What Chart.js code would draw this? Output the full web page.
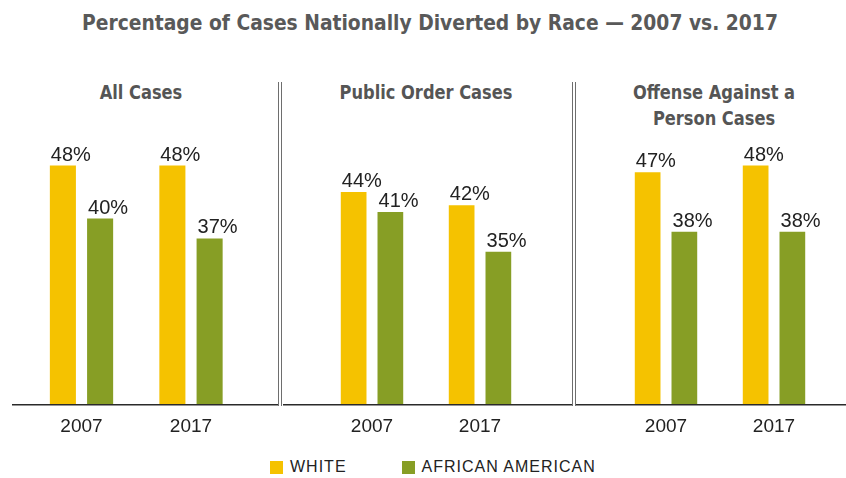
<!DOCTYPE html>
<html>
<head>
<meta charset="utf-8">
<script src="https://cdn.jsdelivr.net/npm/chart.js@4.4.1/dist/chart.umd.min.js"></script>
<style>
  body { margin: 0; background: #fff; }
  #wrap { position: relative; width: 846px; height: 478px; overflow: hidden; background: #fff; }
  .title { position: absolute; left: 7px; width: 846px; top: 10px; text-align: center;
           font: bold 22px "DejaVu Sans Condensed", "DejaVu Sans"; color: #595959;
           transform: scaleX(0.945); }
  .ptitle { position: absolute; text-align: center; width: 260px;
            font: bold 19px "DejaVu Sans Condensed", "DejaVu Sans"; line-height: 26px; color: #555;
            transform: scaleX(0.95); }
  .panel { position: absolute; top: 60px; height: 390px; }
  .sep { position: absolute; top: 82px; height: 324px; width: 2px;
         border-left: 1.3px solid #6e6e6e; border-right: 1.3px solid #6e6e6e; }
  #legend { position: absolute; top: 458px; left: 270px; display: flex; align-items: center;
            font: 16px "Liberation Sans", Arial; letter-spacing: 1px; color: #222; }
  #legend .sw { width: 13px; height: 13px; margin-right: 7px; }
</style>
</head>
<body>
<div id="wrap">
  <div class="title">Percentage of Cases Nationally Diverted by Race — 2007 vs. 2017</div>

  <div class="ptitle" style="left:11px; top:79px">All Cases</div>
  <div class="ptitle" style="left:296px; top:79px">Public Order Cases</div>
  <div class="ptitle" style="left:584px; top:79px">Offense Against a<br>Person Cases</div>

  <div class="panel" style="left:12px; width:267px"><canvas id="c1"></canvas></div>
  <div class="panel" style="left:283px; width:290px"><canvas id="c2"></canvas></div>
  <div class="panel" style="left:576px; width:270px"><canvas id="c3"></canvas></div>

  <div class="sep" style="left:278px"></div>
  <div class="sep" style="left:571.5px"></div>

  <div id="legend"></div>
</div>

<script>
// ---- data ----
const years = ['2007', '2017'];
const seriesNames = ['WHITE', 'AFRICAN AMERICAN'];
const seriesColors = ['#F5C200', '#879E25'];

const allCasesWhite = [48, 48];
const allCasesAfricanAmerican = [40, 37];
const publicOrderWhite = [44, 42];
const publicOrderAfricanAmerican = [41, 35];
const personWhite = [47, 48];
const personAfricanAmerican = [38, 38];

// value labels above bars (start at the bar's left edge)
const barLabels = {
  id: 'barLabels',
  afterDatasetsDraw(chart) {
    const ctx = chart.ctx;
    ctx.save();
    ctx.font = '20px "Liberation Sans", Arial';
    ctx.fillStyle = '#222';
    ctx.textAlign = 'left';
    ctx.textBaseline = 'alphabetic';
    chart.data.datasets.forEach((ds, i) => {
      chart.getDatasetMeta(i).data.forEach((bar, j) => {
        ctx.fillText(ds.data[j] + '%', bar.x - bar.width / 2 + 1, bar.y - 5);
      });
    });
    ctx.restore();
  }
};

// baseline across the whole panel
const baseLine = {
  id: 'baseLine',
  afterDatasetsDraw(chart) {
    const y = chart.scales.y.getPixelForValue(chart.scales.y.min);
    const ctx = chart.ctx;
    ctx.save();
    ctx.strokeStyle = '#2a2a2a';
    ctx.lineWidth = 1.5;
    ctx.beginPath();
    ctx.moveTo(0, y + 0.75);
    ctx.lineTo(chart.width, y + 0.75);
    ctx.stroke();
    ctx.restore();
  }
};

function makePanel(id, white, african, padL, padR) {
  return new Chart(document.getElementById(id), {
    type: 'bar',
    data: {
      labels: years,
      datasets: [
        { label: seriesNames[0], data: white, backgroundColor: seriesColors[0] },
        { label: seriesNames[1], data: african, backgroundColor: seriesColors[1] },
      ],
    },
    options: {
      responsive: true, maintainAspectRatio: false, animation: false,
      layout: { padding: { left: padL, right: padR, top: 26, bottom: 0 } },
      categoryPercentage: 0.68,
      barPercentage: 0.7,
      plugins: { legend: { display: false }, tooltip: { enabled: false } },
      scales: {
        y: { display: false, min: 12, max: 60 },
        x: {
          grid: { display: false }, border: { display: false },
          ticks: { color: '#222', padding: 3, font: { family: 'Liberation Sans', size: 19 } },
          afterFit: s => { s.height = 46; },
        },
      },
    },
    plugins: [baseLine, barLabels],
  });
}

makePanel('c1', allCasesWhite, allCasesAfricanAmerican, 14.75, 33.25);
makePanel('c2', publicOrderWhite, publicOrderAfricanAmerican, 35, 39);
makePanel('c3', personWhite, personAfricanAmerican, 36, 18);

// legend
const legend = document.getElementById('legend');
legend.innerHTML = seriesNames.map((n, i) =>
  `<span class="sw" style="background:${seriesColors[i]}"></span><span style="margin-right:${i ? 0 : 55}px">${n}</span>`
).join('');
</script>
</body>
</html>
